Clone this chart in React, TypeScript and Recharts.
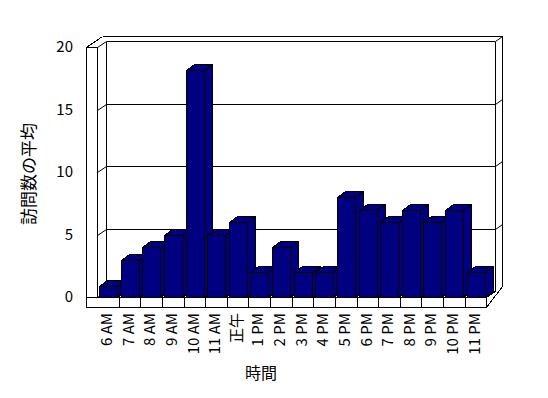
import { BarChart, Bar, XAxis, YAxis, CartesianGrid, Customized } from 'recharts';

const hours = ['6 AM', '7 AM', '8 AM', '9 AM', '10 AM', '11 AM', '正午', '1 PM', '2 PM', '3 PM', '4 PM', '5 PM', '6 PM', '7 PM', '8 PM', '9 PM', '10 PM', '11 PM'];
const visits = [0.9, 3, 4, 5, 18.2, 5, 6, 2, 4, 2, 2, 8, 7, 6, 7, 6, 7, 2];
const yTicks = [0, 5, 10, 15, 20];

const data = hours.map((hour, i) => ({ hour, visits: visits[i] }));

const W = 548;
const H = 398;
// plot area = front plane of the 3d box
const LEFT = 97;
const RIGHT = 486.3;
const TOP = 47;
const BOTTOM = 297;
const WALL = 11; // left wall thickness
const FLOOR = 10; // floor thickness
const DX = 9; // depth to back wall surface
const DY = -6;
const DX2 = 16; // full depth
const DY2 = -11;
const BAR_DX = 8;
const BAR_DY = -6;
const NAVY = '#000080';
const FONT = '"Noto Sans CJK JP", "Noto Sans", sans-serif';

const px = (v: number) => Math.round(v) + 0.5;

const Bar3D = (props: any) => {
  const { x, y, width, height } = props;
  if (width == null || height == null || height <= 0) return null;
  const l = px(x);
  const t = px(y);
  const r = px(x + width);
  const b = px(y + height);
  return (
    <g stroke="#000" strokeWidth={1} fill={NAVY} shapeRendering="crispEdges">
      <polygon points={`${r},${t} ${r + BAR_DX},${t + BAR_DY} ${r + BAR_DX},${b + BAR_DY} ${r},${b}`} />
      <polygon points={`${l},${t} ${l + BAR_DX},${t + BAR_DY} ${r + BAR_DX},${t + BAR_DY} ${r},${t}`} />
      <rect x={l} y={t} width={r - l} height={b - t} />
    </g>
  );
};

const gridLine = (props: any) => {
  const { x1, x2, y1, index } = props;
  const y = px(y1);
  const l = px(x1);
  const r = px(x2);
  const pts = [
    `${l - WALL},${y}`,
    `${l},${y}`,
    `${l + DX},${y + DY}`,
    `${r + DX},${y + DY}`,
  ];
  if (Math.abs(y1 - BOTTOM) > 1) pts.push(`${r + DX2},${y + DY2}`);
  return <polyline key={`grid-${index}-${y}`} points={pts.join(' ')} fill="none" stroke="#000" strokeWidth={1} />;
};

const XTick = (props: any) => {
  const { x, y, payload } = props;
  return (
    <text
      x={x}
      y={y}
      transform={`rotate(-90, ${x}, ${y})`}
      textAnchor="end"
      dy="0.28em"
      fontSize={15}
      fontFamily={FONT}
      fill="#000"
    >
      {payload.value}
    </text>
  );
};

const Frame = () => {
  const band = (RIGHT - LEFT) / hours.length;
  const l0 = px(LEFT - WALL);
  const l1 = px(LEFT);
  const t = px(TOP);
  const b = px(BOTTOM);
  const fb = px(BOTTOM + FLOOR);
  const r = px(RIGHT);
  const seps = hours.map((_, i) => px(LEFT + (i + 1) * band));
  return (
    <g stroke="#000" strokeWidth={1} fill="none" shapeRendering="crispEdges">
      <rect x={l0} y={t} width={l1 - l0} height={b - t} fill="#fff" />
      <rect x={l0} y={b} width={r - l0} height={fb - b} fill="#fff" />
      <line x1={l0} y1={t} x2={l0 + DX2} y2={t + DY2} />
      <line x1={l0 + DX2} y1={t + DY2} x2={r + DX2} y2={t + DY2} />
      <line x1={r + DX2} y1={t + DY2} x2={r + DX2} y2={b + DY2} />
      <line x1={r + DX2} y1={b + DY2} x2={r} y2={fb} />
      <line x1={l1 + DX} y1={t + DY} x2={l1 + DX} y2={b + DY} />
      <line x1={r + DX} y1={t + DY} x2={r + DX} y2={b + DY} />
      <line x1={r} y1={b} x2={r + DX} y2={b + DY} />
      {seps.map((sx, i) => (
        <line key={i} x1={sx} y1={b} x2={sx} y2={fb} />
      ))}
      <text
        x={29}
        y={174}
        transform="rotate(-90, 29, 174)"
        textAnchor="middle"
        dy="0.36em"
        fontSize={17}
        fontFamily={FONT}
        fill="#000"
        stroke="none"
      >
        訪問数の平均
      </text>
      <text x={261} y={373} textAnchor="middle" dy="0.36em" fontSize={16} fontFamily={FONT} fill="#000" stroke="none">
        時間
      </text>
    </g>
  );
};

export default function App() {
  return (
    <div style={{ position: 'absolute', left: 0, top: 0, width: W, height: H, background: '#fff' }}>
      <BarChart
        width={W}
        height={H}
        data={data}
        margin={{ top: TOP, right: W - RIGHT, bottom: 0, left: 0 }}
        barCategoryGap={2}
      >
        <CartesianGrid vertical={false} horizontal={gridLine} />
        <Customized component={<Frame />} />
        <XAxis
          dataKey="hour"
          height={H - BOTTOM}
          interval={0}
          axisLine={false}
          tickLine={false}
          tickSize={0}
          tickMargin={16}
          tick={<XTick />}
        />
        <YAxis
          width={LEFT}
          domain={[0, 20]}
          ticks={yTicks}
          axisLine={false}
          tickLine={false}
          tickSize={0}
          tickMargin={24}
          tick={{ fill: '#000', fontSize: 15, fontFamily: FONT }}
        />
        <Bar dataKey="visits" shape={<Bar3D />} isAnimationActive={false} />
      </BarChart>
    </div>
  );
}
